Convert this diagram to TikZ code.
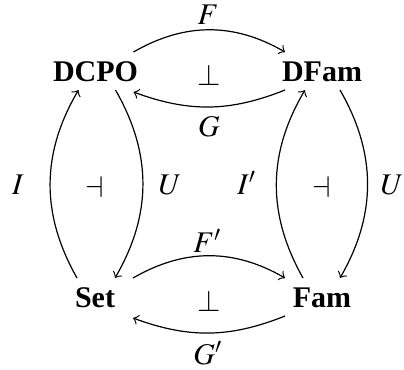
\documentclass[tikz,border=0pt]{standalone}
\usepackage{mathptmx}
\usepackage[no-math]{fontspec}
\setmainfont{Liberation Serif}
\begin{document}
\begin{tikzpicture}[
			x=0.3333pt, y=0.3333pt,
			obj/.style={font=\bfseries, inner sep=0pt},
			lbl/.style={inner sep=0pt, anchor=base},
			sym/.style={inner sep=0pt},
			arr/.style={->, bend left=30},
			flat/.style={->, bend left=21}
			]
			\useasboundingbox (0,0) rectangle (404,-369);
			\node[obj] (dcpo) at (95.5,-72) {DCPO};
			\node[obj] (dfam) at (322,-72) {DFam};
			\node[obj] (set) at (95,-298) {Set};
			\node[obj] (fam) at (322,-298) {Fam};
			% top adjunction
			\draw[arr] ([shift={(38,20)}]dcpo.center) to ([shift={(-37,20)}]dfam.center);
			\draw[flat] ([shift={(-37,-18)}]dfam.center) to ([shift={(38,-20)}]dcpo.center);
			% left adjunction
			\draw[arr] ([shift={(20,-18)}]dcpo.center) to ([shift={(20,20)}]set.center);
			\draw[arr] ([shift={(-18,20)}]set.center) to ([shift={(-17,-18)}]dcpo.center);
			% right adjunction
			\draw[arr] ([shift={(-19,20)}]fam.center) to ([shift={(-17,-18)}]dfam.center);
			\draw[arr] ([shift={(18,-18)}]dfam.center) to ([shift={(18,20)}]fam.center);
			% bottom adjunction
			\draw[arr] ([shift={(38,20)}]set.center) to ([shift={(-37,20)}]fam.center);
			\draw[flat] ([shift={(-37,-18)}]fam.center) to ([shift={(38,-20)}]set.center);
			% labels
			\node[lbl] (lF) at (208,-24) {$F$};
			\node[lbl] (lG) at (209,-136.5) {$G$};
			\node[lbl] (lFp) at (207.5,-252) {$F'$};
			\node[lbl] (lGp) at (208,-364.5) {$G'$};
			\node[lbl] (lI) at (18,-194) {$I$};
			\node[lbl] (lU) at (170,-194) {$U$};
			\node[lbl] (lIp) at (247,-194) {$I'$};
			\node[lbl] (lUp) at (392,-194) {$U$};
			\node[sym] (pt) at (209,-75) {$\perp$};
			\node[sym] (pb) at (209,-301) {$\perp$};
			\node[sym] (dl) at (95,-187) {$\dashv$};
			\node[sym] (dr) at (322,-187) {$\dashv$};
		\end{tikzpicture}
\end{document}
